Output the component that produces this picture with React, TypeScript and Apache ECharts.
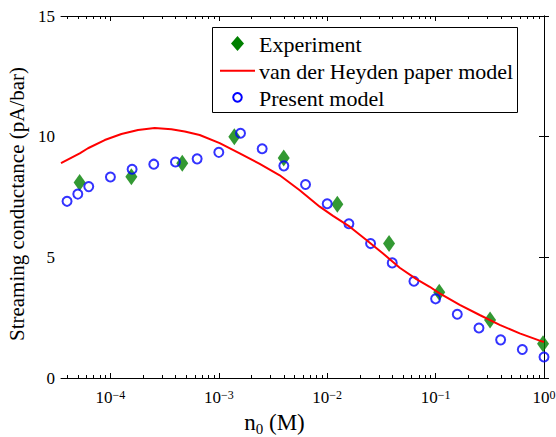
import React, { useEffect, useRef } from "react";
import * as echarts from "echarts";

// Concentration axis range (M)
const N_MIN = 3.5e-5;
const N_MAX = 1;
const X_TICK_EXPONENTS = [-4, -3, -2, -1, 0];
const Y_TICKS = [0, 5, 10, 15];

const SERIES_NAMES = ["Experiment", "van der Heyden paper model", "Present model"];

// Experiment (green diamonds)
const experimentN = [5.2e-5, 1.56e-4, 4.6e-4, 1.39e-3, 3.97e-3, 1.24e-2, 3.72e-2, 0.108, 0.318, 0.98];
const experimentG = [8.1, 8.34, 8.9, 10.0, 9.12, 7.2, 5.57, 3.55, 2.4, 1.42];

// van der Heyden paper model (red line)
const heydenN = [
  3.5e-5, 5.21e-5, 6.21e-5, 8.86e-5, 1.263e-4, 1.797e-4, 2.56e-4, 3.65e-4, 4.85e-4, 6.66e-4,
  1.019e-3, 1.559e-3, 2.384e-3, 3.646e-3, 5.575e-3, 8.53e-3, 1.131e-2, 1.613e-2, 2.299e-2,
  3.272e-2, 4.665e-2, 6.65e-2, 8.82e-2, 0.109, 0.167, 0.255, 0.39, 0.597, 0.913, 1,
];
const heydenG = [
  8.9, 9.31, 9.52, 9.86, 10.11, 10.28, 10.36, 10.31, 10.21, 10.07,
  9.73, 9.31, 8.87, 8.4, 7.78, 7.1, 6.72, 6.27, 5.72,
  5.16, 4.57, 4.1, 3.78, 3.51, 3.03, 2.61, 2.2, 1.85, 1.55, 1.49,
];

// Present model (blue open circles)
const presentN = [
  3.98e-5, 5e-5, 6.31e-5, 1e-4, 1.585e-4, 2.512e-4, 3.98e-4, 6.31e-4, 1e-3, 1.585e-3, 2.512e-3,
  3.98e-3, 6.31e-3, 1e-2, 1.585e-2, 2.512e-2, 3.98e-2, 6.31e-2, 0.1, 0.1585, 0.2512, 0.398, 0.631, 1,
];
const presentG = [
  7.32, 7.62, 7.93, 8.33, 8.65, 8.86, 8.95, 9.08, 9.35, 10.14, 9.5,
  8.79, 8.02, 7.22, 6.39, 5.57, 4.77, 4.01, 3.28, 2.64, 2.07, 1.58, 1.18, 0.87,
];

const FONT = "Liberation Serif";
const GREEN = "#008000";
const RED = "#ff0000";
const BLUE = "#0000ff";

export default function App() {
  const ref = useRef<HTMLDivElement>(null);

  useEffect(() => {
    if (!ref.current) return;
    const chart = echarts.init(ref.current, null, { renderer: "svg" });

    const xMin = Math.log10(N_MIN);
    const xMax = Math.log10(N_MAX);
    const major = X_TICK_EXPONENTS.slice();
    const minor: number[] = [];
    for (let k = -6; k <= 0; k++) {
      for (let m = 2; m <= 9; m++) {
        const v = k + Math.log10(m);
        if (v > xMin && v < xMax) minor.push(v);
      }
    }
    const pair = (ns: number[], gs: number[]) => ns.map((n, i) => [Math.log10(n), gs[i]]);

    const axisLine = { show: true, lineStyle: { color: "#000", width: 1 } };
    const baseX = {
      type: "value",
      min: xMin,
      max: xMax,
      gridIndex: 0,
      splitLine: { show: false },
    };

    // Legend (drawn as a boxed key)
    const boxX = 212.5, boxY = 27.5, boxW = 305, boxH = 85;
    const rowY = [43.5, 70.7, 97.3];
    const iconCx = 237.5;
    const textX = 259;
    const legendTextStyle = (t: string, y: number) => ({
      type: "text",
      z: 6,
      x: textX,
      y: y + 1,
      style: { text: t, fontFamily: FONT, fontSize: 22, fill: "#000", align: "left", verticalAlign: "middle" },
    });

    const option: any = {
      animation: false,
      backgroundColor: "#fff",
      textStyle: { fontFamily: FONT },
      grid: { left: 61, top: 16, width: 483, height: 362, containLabel: false, outerBoundsMode: "none" },
      graphic: [
        {
          type: "rect",
          z: 5,
          shape: { x: boxX, y: boxY, width: boxW, height: boxH },
          style: { fill: "#fff", stroke: "#000", lineWidth: 1 },
        },
        {
          type: "polygon",
          z: 6,
          shape: {
            points: [
              [iconCx, rowY[0] - 7.5],
              [iconCx + 6.5, rowY[0]],
              [iconCx, rowY[0] + 7.5],
              [iconCx - 6.5, rowY[0]],
            ],
          },
          style: { fill: GREEN },
        },
        legendTextStyle(SERIES_NAMES[0], rowY[0]),
        {
          type: "line",
          z: 6,
          shape: { x1: 220, y1: rowY[1], x2: 255, y2: rowY[1] },
          style: { stroke: RED, lineWidth: 2 },
        },
        legendTextStyle(SERIES_NAMES[1], rowY[1]),
        {
          type: "circle",
          z: 6,
          shape: { cx: iconCx, cy: rowY[2], r: 4.3 },
          style: { fill: "none", stroke: BLUE, lineWidth: 2 },
        },
        legendTextStyle(SERIES_NAMES[2], rowY[2]),
      ],
      xAxis: [
        {
          ...baseX,
          position: "bottom",
          axisLine,
          axisTick: { show: true, inside: true, length: 5, customValues: major, lineStyle: { color: "#000" } },
          axisLabel: {
            show: true,
            customValues: major,
            margin: 11,
            fontFamily: FONT,
            formatter: (v: number) => {
              const e = Math.round(v);
              return `{b|10}{s|${e < 0 ? "\u2212" + -e : e}}`;
            },
            rich: {
              b: { fontFamily: FONT, fontSize: 17, lineHeight: 17, padding: [4, 0, 0, 0], verticalAlign: "bottom", color: "#000" },
              s: { fontFamily: FONT, fontSize: 12, lineHeight: 12, verticalAlign: "top", color: "#000" },
            },
          },
          name: "{n|n}{sub|0}{n| (M)}",
          nameLocation: "middle",
          nameGap: 31,
          nameTextStyle: {
            fontFamily: FONT,
            padding: [0, 56, 0, 0],
            rich: {
              n: { fontFamily: FONT, fontSize: 23, lineHeight: 23, verticalAlign: "top", color: "#000" },
              sub: { fontFamily: FONT, fontSize: 15, lineHeight: 15, padding: [11, 0, 0, 0], verticalAlign: "top", color: "#000" },
            },
          },
        },
        {
          ...baseX,
          position: "bottom",
          axisLine: { show: false },
          axisTick: { show: true, inside: true, length: 3, customValues: minor, lineStyle: { color: "#000" } },
          axisLabel: { show: false },
        },
        {
          ...baseX,
          position: "top",
          axisLine,
          axisTick: { show: true, inside: true, length: 5, customValues: major, lineStyle: { color: "#000" } },
          axisLabel: { show: false },
        },
        {
          ...baseX,
          position: "top",
          axisLine: { show: false },
          axisTick: { show: true, inside: true, length: 3, customValues: minor, lineStyle: { color: "#000" } },
          axisLabel: { show: false },
        },
      ],
      yAxis: [
        {
          type: "value",
          position: "left",
          min: Y_TICKS[0],
          max: Y_TICKS[Y_TICKS.length - 1],
          interval: 5,
          splitLine: { show: false },
          axisLine,
          axisTick: { show: true, inside: true, length: 5, lineStyle: { color: "#000" } },
          axisLabel: { margin: 6, fontFamily: FONT, fontSize: 17, color: "#000" },
          name: "Streaming conductance (pA/bar)",
          nameLocation: "middle",
          nameGap: 30,
          nameTextStyle: {
            fontFamily: FONT,
            fontSize: 21,
            lineHeight: 21,
            color: "#000",
            padding: [0, 14, 0, 0],
          },
        },
        {
          type: "value",
          position: "right",
          min: Y_TICKS[0],
          max: Y_TICKS[Y_TICKS.length - 1],
          interval: 5,
          splitLine: { show: false },
          axisLine,
          axisTick: { show: true, inside: true, length: 5, lineStyle: { color: "#000" } },
          axisLabel: { show: false },
        },
      ],
      series: [
        {
          name: SERIES_NAMES[0],
          type: "scatter",
          xAxisIndex: 0,
          yAxisIndex: 0,
          symbol: "diamond",
          symbolSize: [12, 17],
          itemStyle: { color: GREEN },
          data: pair(experimentN, experimentG),
        },
        {
          name: SERIES_NAMES[1],
          type: "line",
          xAxisIndex: 0,
          yAxisIndex: 0,
          showSymbol: false,
          symbol: "none",
          smooth: false,
          lineStyle: { color: RED, width: 2 },
          itemStyle: { color: RED },
          data: pair(heydenN, heydenG),
        },
        {
          name: SERIES_NAMES[2],
          type: "scatter",
          xAxisIndex: 0,
          yAxisIndex: 0,
          symbol: "circle",
          symbolSize: 9,
          itemStyle: { color: "transparent", borderColor: BLUE, borderWidth: 2 },
          data: pair(presentN, presentG),
        },
      ],
    };

    chart.setOption(option);
    return () => chart.dispose();
  }, []);

  return (
    <div
      ref={ref}
      style={{ position: "fixed", left: 0, top: 0, width: 556, height: 437, background: "#fff" }}
    />
  );
}
